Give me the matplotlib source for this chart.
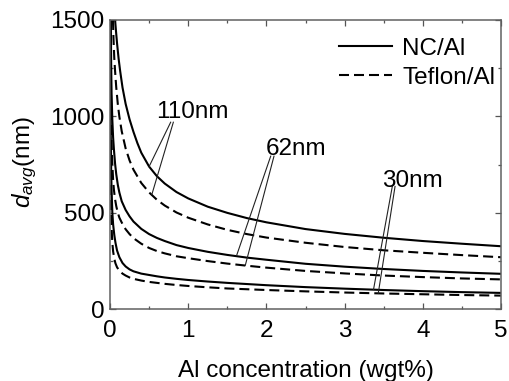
import matplotlib
matplotlib.use('Agg')
import matplotlib.pyplot as plt
from matplotlib.ticker import MultipleLocator

plt.rcParams['font.family'] = ['Liberation Sans', 'DejaVu Sans']
plt.rcParams['mathtext.fontset'] = 'custom'
plt.rcParams['mathtext.rm'] = 'Liberation Sans'
plt.rcParams['mathtext.it'] = 'Liberation Sans:italic'

# ---- data ----
nc110_x = [0.065, 0.075, 0.09, 0.11, 0.13, 0.16, 0.2, 0.25, 0.3, 0.35, 0.4, 0.5, 0.6, 0.7, 0.85,
           1.0, 1.25, 1.5, 1.75, 2.0, 2.5, 3.0, 3.5, 4.0, 4.5, 5.0]
nc110_y = [1500, 1450, 1380, 1300, 1235, 1150, 1065, 985, 920, 862, 812, 740, 690, 652, 608,
           575, 532, 500, 473, 451, 416, 391, 371, 354, 340, 327]

tef110_x = [0.0375, 0.045, 0.055, 0.065, 0.08, 0.1, 0.12, 0.15, 0.2, 0.25, 0.3, 0.4, 0.5, 0.6, 0.7, 0.85,
            1.0, 1.25, 1.5, 1.75, 2.0, 2.5, 3.0, 3.5, 4.0, 4.5, 5.0]
tef110_y = [1500, 1400, 1300, 1235, 1150, 1063, 998, 923, 834, 772, 724, 655, 606, 568, 538, 502,
            475, 440, 412, 390, 372, 345, 323, 306, 293, 281, 270]

nc62_x = [0.01, 0.015, 0.02, 0.03, 0.04, 0.05, 0.065, 0.08, 0.1, 0.12, 0.15, 0.2, 0.25, 0.3, 0.4, 0.5,
          0.6, 0.7, 0.85, 1.0, 1.25, 1.5, 1.75, 2.0, 2.5, 3.0, 3.5, 4.0, 4.5, 5.0]
nc62_y = [1500, 1270, 1120, 980, 890, 830, 755, 700, 645, 605, 560, 515, 482, 455, 417, 390,
          370, 354, 333, 318, 298, 282, 268, 257, 236, 221, 209, 199, 191, 184]

tef62_x = [0.008, 0.01, 0.015, 0.02, 0.025, 0.03, 0.04, 0.05, 0.065, 0.08, 0.1, 0.12, 0.15, 0.2, 0.25,
           0.3, 0.4, 0.5, 0.6, 0.7, 0.85, 1.0, 1.25, 1.5, 1.75, 2.0, 2.5, 3.0, 3.5, 4.0, 4.5, 5.0]
tef62_y = [1500, 1300, 1000, 880, 800, 750, 670, 620, 570, 535, 500, 475, 450, 415, 390,
           369, 340, 318, 302, 290, 275, 265, 250, 237, 226, 216, 199, 186, 175, 167, 160, 155]

nc30_x = [0.004, 0.006, 0.01, 0.015, 0.02, 0.03, 0.04, 0.055, 0.07, 0.09, 0.12, 0.16, 0.2, 0.25, 0.3,
          0.4, 0.5, 0.6, 0.7, 0.85, 1.0, 1.25, 1.5, 1.75, 2.0, 2.5, 3.0, 3.5, 4.0, 4.5, 5.0]
nc30_y = [1500, 1200, 900, 720, 620, 500, 440, 385, 345, 305, 270, 240, 222, 207, 197,
          185, 178, 171, 165, 158, 152, 144, 137, 131, 125, 115, 107, 100, 94, 89, 85]

tef30_x = [0.003, 0.005, 0.008, 0.012, 0.015, 0.02, 0.025, 0.03, 0.04, 0.055, 0.07, 0.09, 0.12, 0.16,
           0.2, 0.25, 0.3, 0.4, 0.5, 0.6, 0.7, 0.85, 1.0, 1.25, 1.5, 1.75, 2.0, 2.5, 3.0, 3.5, 4.0, 4.5, 5.0]
tef30_y = [1500, 1050, 800, 620, 520, 440, 380, 345, 300, 262, 238, 218, 200, 185,
           175, 165, 158, 149, 142, 137, 132, 126, 121, 114, 108, 104, 100, 93, 87, 82, 78, 74, 71]

series_labels = ['NC/Al', 'Teflon/Al']
size_labels = ['110nm', '62nm', '30nm']

FS = 17.5
fig = plt.figure(figsize=(5.1, 3.81), dpi=100)
ax = fig.add_axes([110/510, 1 - 309.3/381, 391/510, 289.3/381])

LW = 1.5
DASH = (4.8, 2.4)
l1, = ax.plot(nc110_x, nc110_y, color='black', lw=LW, label=series_labels[0])
l2, = ax.plot(tef110_x, tef110_y, color='black', lw=LW, dashes=DASH, label=series_labels[1])
ax.plot(nc62_x, nc62_y, color='black', lw=LW)
ax.plot(tef62_x, tef62_y, color='black', lw=LW, dashes=DASH)
ax.plot(nc30_x, nc30_y, color='black', lw=LW)
ax.plot(tef30_x, tef30_y, color='black', lw=LW, dashes=DASH)

ax.set_xlim(0, 5)
ax.set_ylim(0, 1500)
ax.xaxis.set_major_locator(MultipleLocator(1))
ax.xaxis.set_minor_locator(MultipleLocator(0.5))
ax.yaxis.set_major_locator(MultipleLocator(500))
ax.yaxis.set_minor_locator(MultipleLocator(250))
ax.tick_params(which='both', direction='in', top=True, right=True, color='#555555')
ax.tick_params(which='major', length=4.5, width=0.9)
ax.tick_params(which='minor', length=2.5, width=0.9)
ax.tick_params(axis='x', which='major', labelsize=FS, pad=8)
ax.tick_params(axis='y', which='major', labelsize=FS, pad=4)
for sp in ax.spines.values():
    sp.set_color('#606060')
    sp.set_linewidth(1.1)

ax.set_xlabel('Al concentration (wgt%)', fontsize=FS, labelpad=13)
ax.set_ylabel(r'$d_{avg}$(nm)', fontsize=FS)
ax.yaxis.set_label_coords(-0.182, 0.51)

# annotations with leader lines
ann_lw = 0.8
ax.text(1.05, 990, size_labels[0], fontsize=FS, ha='center', va='baseline')
ax.plot([0.776, 0.50], [970, 740], color='#222222', lw=ann_lw)
ax.plot([0.81, 0.535], [970, 595], color='#222222', lw=ann_lw)

ax.text(2.385, 802, size_labels[1], fontsize=FS, ha='center', va='baseline')
ax.plot([2.055, 1.62], [794, 280], color='#222222', lw=ann_lw)
ax.plot([2.097, 1.73], [794, 228], color='#222222', lw=ann_lw)

ax.text(3.87, 636, size_labels[2], fontsize=FS, ha='center', va='baseline')
ax.plot([3.61, 3.37], [637, 103], color='#222222', lw=ann_lw)
ax.plot([3.645, 3.43], [637, 82], color='#222222', lw=ann_lw)

ax.legend(handles=[l1, l2], loc='upper right', bbox_to_anchor=(0.985, 0.938),
          frameon=False, fontsize=FS, handlelength=2.2, handletextpad=0.4,
          labelspacing=0.27, borderaxespad=0, borderpad=0)

fig.savefig('out.png', dpi=100)
